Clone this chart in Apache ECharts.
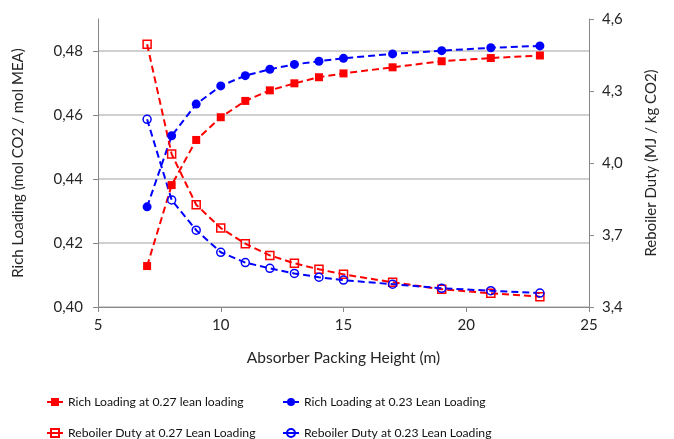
<!DOCTYPE html>
<html>
<head>
<meta charset="utf-8">
<script src="https://cdn.jsdelivr.net/npm/echarts@6/dist/echarts.min.js"></script>
<style>
  html, body { margin: 0; padding: 0; background: #fff; }
  #chart { width: 674px; height: 439px; }
</style>
</head>
<body>
<div id="chart"></div>
<script>
// Absorber packing height (m)
const heights = [7, 8, 9, 10, 11, 12, 13, 14, 15, 17, 19, 21, 23];
// Rich loading (mol CO2 / mol MEA) — left axis
const richLoading027 = [0.4128, 0.4381, 0.4522, 0.4593, 0.4644, 0.4677, 0.4699, 0.4718, 0.4730, 0.4749, 0.4768, 0.4778, 0.4786];
const richLoading023 = [0.4313, 0.4535, 0.4634, 0.4691, 0.4723, 0.4743, 0.4758, 0.4768, 0.4777, 0.4791, 0.4801, 0.4810, 0.4816];
// Reboiler duty (MJ / kg CO2) — right axis
const reboiler027 = [4.495, 4.037, 3.826, 3.729, 3.664, 3.615, 3.582, 3.557, 3.536, 3.503, 3.474, 3.457, 3.443];
const reboiler023 = [4.182, 3.846, 3.720, 3.628, 3.585, 3.561, 3.540, 3.524, 3.512, 3.495, 3.478, 3.468, 3.458];

const seriesNames = [
  'Rich Loading at 0.27 lean loading',
  'Rich Loading at 0.23 Lean Loading',
  'Reboiler Duty at 0.27 Lean Loading',
  'Reboiler Duty at 0.23 Lean Loading'
];

const FONT = 'Lato, "Liberation Sans", sans-serif';
const TXT = '#262626';
const RED = '#ff0000';
const BLUE = '#0000ff';
const dash = [7, 4];

function pairs(ys) { return heights.map((x, i) => [x, ys[i]]); }

const chart = echarts.init(document.getElementById('chart'), null, { renderer: 'canvas' });

function legendAt(name, left, top) {
  return {
    data: [name],
    left: left,
    top: top,
    padding: 0,
    itemWidth: 16,
    itemHeight: 10,
    itemGap: 4,
    textStyle: { fontFamily: FONT, fontSize: 12.2, color: '#111' },
    lineStyle: { type: 'solid', width: 2 }
  };
}

chart.setOption({
  animation: false,
  backgroundColor: '#fff',
  grid: { left: 98, right: 85, top: 19, bottom: 132, containLabel: false },
  legend: [
    legendAt(seriesNames[0], 46, 396),
    legendAt(seriesNames[1], 282, 396),
    legendAt(seriesNames[2], 46, 427),
    legendAt(seriesNames[3], 282, 427)
  ],
  xAxis: {
    type: 'value',
    min: 5, max: 25, interval: 5,
    name: 'Absorber Packing Height (m)',
    nameLocation: 'middle',
    nameGap: 43,
    nameTextStyle: { fontFamily: FONT, fontSize: 15.5, color: TXT },
    axisLine: { show: true, lineStyle: { color: '#888', width: 1 } },
    axisTick: { show: true, length: 5, lineStyle: { color: '#888' } },
    axisLabel: { fontFamily: FONT, fontSize: 15, color: TXT, margin: 11 },
    splitLine: { show: false }
  },
  yAxis: [
    {
      type: 'value',
      position: 'left',
      min: 0.40, max: 0.49, interval: 0.02,
      name: 'Rich Loading (mol CO2 / mol MEA)',
      nameLocation: 'middle',
      nameGap: 72,
      nameRotate: 90,
      nameTextStyle: { fontFamily: FONT, fontSize: 15, color: TXT },
      axisLine: { show: true, lineStyle: { color: '#888', width: 1 } },
      axisTick: { show: true, length: 5, lineStyle: { color: '#888' } },
      axisLabel: {
        fontFamily: FONT, fontSize: 15, color: TXT, margin: 15,
        showMaxLabel: false,
        formatter: v => v.toFixed(2).replace('.', ',')
      },
      splitLine: { show: true, showMaxLine: false, lineStyle: { color: '#c0c0c0', width: 1.5 } }
    },
    {
      type: 'value',
      position: 'right',
      min: 3.4, max: 4.6, interval: 0.3,
      name: 'Reboiler Duty (MJ / kg CO2)',
      nameLocation: 'middle',
      nameGap: 55,
      nameRotate: 90,
      nameTextStyle: { fontFamily: FONT, fontSize: 15, color: TXT },
      axisLine: { show: true, lineStyle: { color: '#888', width: 1 } },
      axisTick: { show: true, length: 5, lineStyle: { color: '#888' } },
      axisLabel: {
        fontFamily: FONT, fontSize: 15, color: TXT, margin: 13,
        formatter: v => v.toFixed(1).replace('.', ',')
      },
      splitLine: { show: false }
    }
  ],
  series: [
    {
      name: seriesNames[0], type: 'line', yAxisIndex: 0,
      data: pairs(richLoading027),
      symbol: 'rect', symbolSize: 8,
      itemStyle: { color: RED },
      lineStyle: { color: RED, width: 2, type: dash }
    },
    {
      name: seriesNames[1], type: 'line', yAxisIndex: 0,
      data: pairs(richLoading023),
      symbol: 'circle', symbolSize: 9,
      itemStyle: { color: BLUE },
      lineStyle: { color: BLUE, width: 2, type: dash }
    },
    {
      name: seriesNames[2], type: 'line', yAxisIndex: 1,
      data: pairs(reboiler027),
      symbol: 'rect', symbolSize: 8,
      itemStyle: { color: 'rgba(255,255,255,0)', borderColor: RED, borderWidth: 1.5 },
      lineStyle: { color: RED, width: 2, type: dash }
    },
    {
      name: seriesNames[3], type: 'line', yAxisIndex: 1,
      data: pairs(reboiler023),
      symbol: 'circle', symbolSize: 8,
      itemStyle: { color: 'rgba(255,255,255,0)', borderColor: BLUE, borderWidth: 1.5 },
      lineStyle: { color: BLUE, width: 2, type: dash }
    }
  ]
});
</script>
</body>
</html>
